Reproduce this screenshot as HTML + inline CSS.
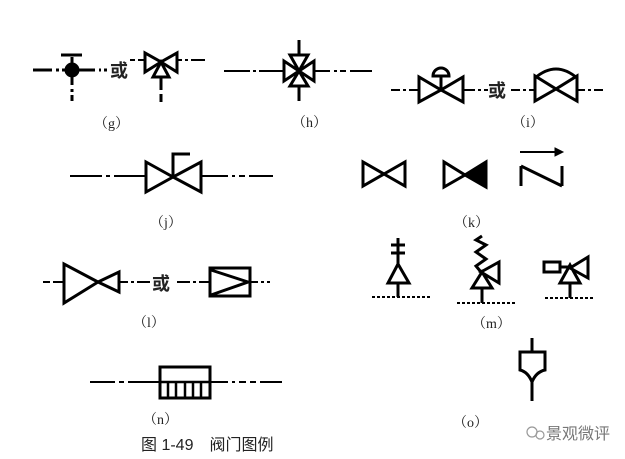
<!DOCTYPE html>
<html><head><meta charset="utf-8"><style>
html,body{margin:0;padding:0;background:#fff;}
svg{display:block;}
text{font-family:"Liberation Serif","Noto Serif CJK SC",serif;fill:#222;}
.c{font-family:"Liberation Sans","Noto Sans CJK SC",sans-serif;font-weight:bold;}
</style></head><body>
<svg width="625" height="459" viewBox="0 0 625 459" xmlns="http://www.w3.org/2000/svg">
<g stroke="#000" stroke-width="3" fill="none" stroke-linejoin="miter">
<!-- g -->
<path d="M33 70H52M56 70H59M62 70H95M99 70H101M104 70H107" />
<path d="M72 57V85M72 89V92M72 95V101M61 55H82"/>
<circle cx="72" cy="70" r="6" fill="#000"/>
<path d="M130 60H135M138 60H145M177 60H182M185 60H188M191 60H205" stroke-width="2"/>
<path d="M145 53V72L161 62ZM177 53V72L161 62ZM153 77H169L161 62Z"/>
<path d="M161 78V90M161 94V102"/>
<!-- h -->
<path d="M224 71H250M253 71H256M259 71H284M314 71H330M334 71H337M340 71H346M350 71H372" stroke-width="2"/>
<path d="M284 61V81L299 71ZM314 61V81L299 71ZM290 55H308L299 71ZM290 86H308L299 71Z"/>
<path d="M299 40V55M299 86V101"/>
<!-- i -->
<path d="M391 90H400M403 90H406M409 90H418M464 90H475M478 90H481M484 90H488M511 90H520M523 90H526M529 90H534M578 90H585M588 90H591M594 90H603" stroke-width="2"/>
<path d="M419 77V102L441 90ZM463 77V102L441 90Z"/>
<path d="M433 76H449A8 8 0 0 0 433 76ZM441 76V90"/>
<path d="M535 76V101L556 89ZM577 76V101L556 89Z"/>
<path d="M535 78Q556 60 577 78"/>
<!-- j -->
<path d="M70 176H102M106 176H110M114 176H145M202 176H228M232 176H235M239 176H245M249 176H273" stroke-width="2"/>
<path d="M146 162V192L173 177ZM201 162V192L173 177Z"/>
<path d="M173 177V154H190"/>
<!-- k -->
<path d="M363 162V186L384 174ZM405 162V186L384 174Z"/>
<path d="M444 162V187L465 175Z"/>
<path d="M486 162V187L465 175Z" fill="#000"/>
<path d="M521 166V186M521 166L562 186M562 166V186"/>
<path d="M520 152H557" stroke-width="2"/>
<path d="M555 148L563 152L555 156Z" fill="#000" stroke-width="1"/>
<!-- l -->
<path d="M43 282H50M53 282H63M120 282H128M131 282H134M137 282H150M177 282H190M193 282H196M199 282H210M251 282H258M261 282H264M267 282H270" stroke-width="2"/>
<path d="M64 264V303L98 282ZM119 272V292L98 282Z"/>
<rect x="210" y="268" width="40" height="28"/>
<path d="M211 270L248 282L211 295"/>
<!-- n -->
<path d="M90 382H115M119 382H124M128 382H160M210 382H228M232 382H235M239 382H246M250 382H256M260 382H282" stroke-width="2"/>
<rect x="160" y="367" width="50" height="31"/>
<path d="M160 382H210M168 382V398M176 382V398M185 382V398M193 382V398M201 382V398" stroke-width="2.5"/>
<!-- m -->
<path d="M372 297H432M457 303H515M545 298H593" stroke-width="2" stroke-dasharray="3 2"/>
<path d="M398 297V283M388 283H409L398 264ZM398 264V238M391 245H405M391 253H405"/>
<path d="M482 303V288M472 288H492L482 272ZM481 272L499 262V283Z"/>
<path d="M481 272L476 266L486 259L476 252L486 245L476 240L482 236"/>
<path d="M570 298V283M560 283H580L570 265ZM570 268L588 257V278ZM544 262H560V272H544ZM560 267H570"/>
<!-- o -->
<path d="M532 338V352M520 352V370Q528 372 532 382Q536 372 545 370V352ZM532 382V401"/>
</g>
<g font-size="14">
<text x="94" y="128">（g）</text>
<text x="292" y="127">（h）</text>
<text x="512" y="127">（i）</text>
<text x="150" y="227">（j）</text>
<text x="454" y="227">（k）</text>
<text x="133" y="327">（l）</text>
<text x="472" y="328">（m）</text>
<text x="143" y="424">（n）</text>
<text x="453" y="427">（o）</text>
</g>
<text class="c" x="110" y="77" font-size="18">或</text>
<text class="c" x="488" y="97" font-size="18">或</text>
<text class="c" x="152" y="290" font-size="18">或</text>
<text x="141" y="450" font-size="16" style="font-family:'Liberation Sans','Noto Sans CJK SC',sans-serif">图 1-49　阀门图例</text>
<text x="546" y="439" font-size="16" style="fill:#777;font-family:'Liberation Sans','Noto Sans CJK SC',sans-serif">景观微评</text>
<g stroke="#999" fill="none" stroke-width="1.2"><circle cx="532" cy="432" r="5"/><circle cx="540" cy="435" r="4"/></g>
</svg>
</body></html>
